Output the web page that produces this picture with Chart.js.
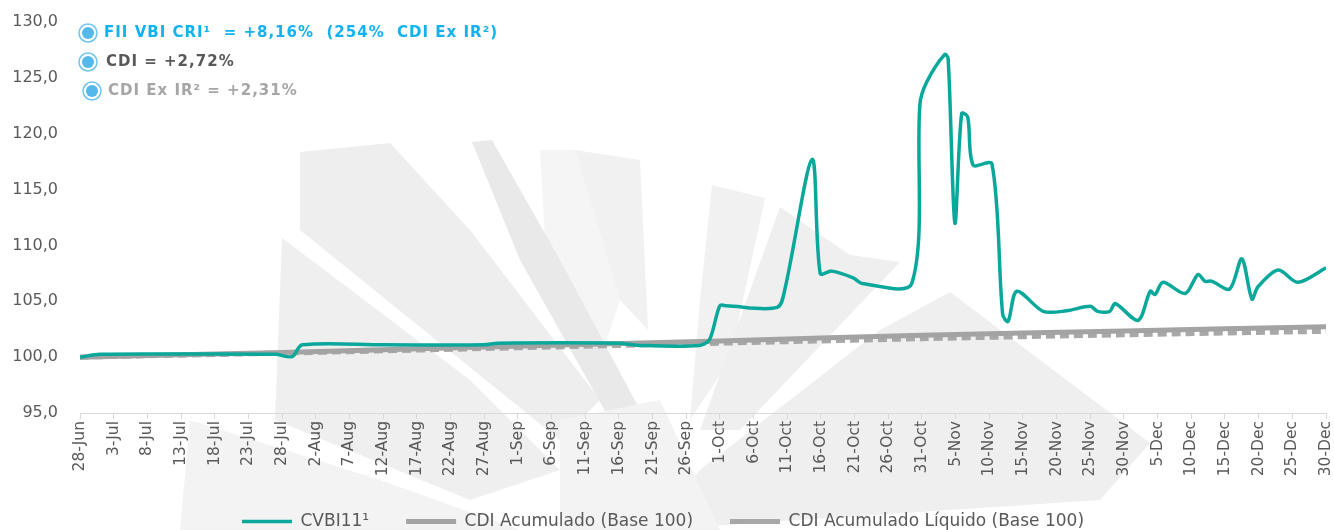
<!DOCTYPE html>
<html>
<head>
<meta charset="utf-8">
<script src="https://cdn.jsdelivr.net/npm/chart.js@4/dist/chart.umd.min.js"></script>
<style>
  html, body { margin: 0; padding: 0; background: #fff; }
  #wrap { width: 1334px; height: 530px; }
</style>
</head>
<body>
<div id="wrap"><canvas id="chart" width="1334" height="530"></canvas></div>
<script>
// x axis: days counted from 28-Jun, one tick label every 5 days
const tickLabels = ['28-Jun', '3-Jul', '8-Jul', '13-Jul', '18-Jul', '23-Jul', '28-Jul',
    '2-Aug', '7-Aug', '12-Aug', '17-Aug', '22-Aug', '27-Aug',
    '1-Sep', '6-Sep', '11-Sep', '16-Sep', '21-Sep', '26-Sep',
    '1-Oct', '6-Oct', '11-Oct', '16-Oct', '21-Oct', '26-Oct', '31-Oct',
    '5-Nov', '10-Nov', '15-Nov', '20-Nov', '25-Nov', '30-Nov',
    '5-Dec', '10-Dec', '15-Dec', '20-Dec', '25-Dec', '30-Dec'];

// CVBI11 (base 100)
const cvbiDays = [0, 3, 15, 29, 31.5, 33, 45, 60, 62, 80, 83, 92, 93.5, 95, 96, 103.5, 104.7, 108.7, 109.9,
    111.6, 114.8, 116.1, 123.5, 124.7, 125.7, 128.4, 128.9, 129.9, 130.9, 131.8, 132.6, 135.4, 137, 137.8,
    139.1, 143, 146.5, 150, 151.1, 152.9, 153.7, 157.1, 158.9, 159.6, 160.8, 164.1, 166, 167, 168, 170.7,
    172.5, 174, 174.9, 177.9, 180.8, 185];
const cvbiValues = [100.0, 100.25, 100.28, 100.25, 100.05, 101.1, 101.1, 101.1, 101.25, 101.25, 101.05, 101.05, 101.6, 104.6, 104.6, 104.45, 106.2, 117.7, 107.5,
    107.7, 107.1, 106.6, 106.6, 122.6, 124.6, 127.1, 126.7, 112.0, 121.8, 121.5, 117.2, 117.3, 103.8, 103.2,
    105.9, 104.1, 104.15, 104.55, 104.1, 104.1, 104.8, 103.3, 105.9, 105.6, 106.7, 105.7, 107.4, 106.8, 106.8, 106.1,
    108.8, 105.2, 106.3, 107.8, 106.7, 108.0];

// CDI accumulated, gross and net
const cdiDays = [0, 30, 60, 95, 125, 155, 185];
const cdiValues = [100.0, 100.42, 100.9, 101.45, 101.95, 102.35, 102.72];
const cdiLiqValues = [100.0, 100.36, 100.77, 101.25, 101.65, 102.0, 102.31];

const seriesNames = ['CVBI11¹', 'CDI Acumulado (Base 100)', 'CDI Acumulado Líquido (Base 100)'];

// text box in the top left corner
const notes = [
    { text: 'FII VBI CRI¹  = +8,16%  (254%  CDI Ex IR²)', color: '#12b2f0' },
    { text: 'CDI = +2,72%', color: '#595959' },
    { text: 'CDI Ex IR² = +2,31%', color: '#a6a6a6' },
];

const toPoints = (xs, ys) => xs.map((x, i) => ({ x: x, y: ys[i] }));

// faint logo behind the plot
const watermark = {
    id: 'watermark',
    beforeDraw(chart) {
        const ctx = chart.ctx;
        ctx.save();
        ctx.fillStyle = '#fff';
        ctx.fillRect(0, 0, chart.width, chart.height);
        const shapes = [
            ['#f3f3f3', [[190, 420], [380, 480], [520, 530], [180, 530]]],
            ['#eeeeef', [[300, 152], [390, 143], [470, 230], [600, 400], [560, 440], [300, 230]]],
            ['#efefef', [[282, 238], [470, 380], [560, 470], [470, 500], [275, 420]]],
            ['#f5f5f6', [[540, 150], [575, 150], [620, 300], [600, 360], [545, 240]]],
            ['#e9e9ea', [[472, 142], [492, 140], [560, 260], [640, 410], [610, 420], [520, 260]]],
            ['#f1f1f1', [[575, 150], [640, 160], [648, 330], [620, 300]]],
            ['#f1f1f1', [[712, 185], [765, 198], [730, 360], [690, 420], [700, 300]]],
            ['#efefef', [[780, 207], [850, 255], [900, 262], [740, 430], [700, 430]]],
            ['#efefef', [[950, 292], [1150, 443], [1100, 500], [650, 530], [700, 470], [880, 330]]],
            ['#f3f3f3', [[560, 420], [660, 400], [720, 530], [560, 530]]],
        ];
        shapes.forEach(([color, pts]) => {
            ctx.fillStyle = color;
            ctx.beginPath();
            pts.forEach((p, i) => i ? ctx.lineTo(p[0], p[1]) : ctx.moveTo(p[0], p[1]));
            ctx.closePath();
            ctx.fill();
        });
        ctx.restore();
    }
};

const notesBox = {
    id: 'notesBox',
    afterDraw(chart) {
        const ctx = chart.ctx;
        ctx.save();
        const rows = [[88, 33, 104], [88, 62, 106], [92, 91, 108]];
        notes.forEach((n, i) => {
            const [cx, cy, tx] = rows[i];
            ctx.beginPath();
            ctx.arc(cx, cy, 9, 0, Math.PI * 2);
            ctx.fillStyle = '#fff';
            ctx.fill();
            ctx.lineWidth = 1.5;
            ctx.strokeStyle = '#6cc4ef';
            ctx.stroke();
            ctx.beginPath();
            ctx.arc(cx, cy, 6, 0, Math.PI * 2);
            ctx.fillStyle = '#55b8ea';
            ctx.fill();
            ctx.font = 'bold 15px "DejaVu Sans"';
            ctx.letterSpacing = '1px';
            ctx.fillStyle = n.color;
            ctx.textBaseline = 'middle';
            ctx.fillText(n.text, tx, cy);
        });
        ctx.restore();
    }
};

new Chart(document.getElementById('chart'), {
    type: 'line',
    plugins: [watermark, notesBox],
    data: {
        datasets: [
            {
                label: seriesNames[0],
                data: toPoints(cvbiDays, cvbiValues),
                borderColor: '#0aa89b',
                backgroundColor: '#0aa89b',
                borderWidth: 3.5,
                tension: 0.3,
                pointRadius: 0,
                order: 0,
            },
            {
                label: seriesNames[1],
                data: toPoints(cdiDays, cdiValues),
                borderColor: '#a3a3a3',
                backgroundColor: '#a3a3a3',
                borderWidth: 5,
                tension: 0.3,
                pointRadius: 0,
                order: 1,
            },
            {
                label: seriesNames[2],
                data: toPoints(cdiDays, cdiLiqValues),
                borderColor: '#a8a8a8',
                backgroundColor: '#a8a8a8',
                borderWidth: 5,
                borderDash: [9, 5],
                tension: 0.3,
                pointRadius: 0,
                order: 2,
            },
        ],
    },
    options: {
        responsive: false,
        animation: false,
        layout: { padding: { top: 22, right: 8, left: 0, bottom: -10 } },
        plugins: {
            tooltip: { enabled: false },
            legend: {
                position: 'bottom',
                labels: {
                    usePointStyle: true,
                    pointStyle: 'line',
                    pointStyleWidth: 50,
                    boxWidth: 50,
                    boxHeight: 17,
                    padding: 10,
                    color: '#595959',
                    font: { family: '"DejaVu Sans"', size: 17 },
                    generateLabels: (chart) => {
                        const items = Chart.defaults.plugins.legend.labels.generateLabels(chart);
                        items.forEach((it, i) => {
                            if (i < items.length - 1) it.text += '     ';
                        });
                        return items;
                    },
                },
            },
        },
        scales: {
            x: {
                type: 'linear',
                min: 0,
                max: 185,
                grid: { drawOnChartArea: false, color: '#d9d9d9', tickLength: 6 },
                border: { color: '#d9d9d9' },
                ticks: {
                    stepSize: 5,
                    autoSkip: false,
                    minRotation: 90,
                    maxRotation: 90,
                    padding: 2,
                    color: '#595959',
                    font: { family: '"DejaVu Sans"', size: 15.5 },
                    callback: (v) => tickLabels[Math.round(v / 5)],
                },
                afterFit: (scale) => {
                    scale.height = 90;
                    scale.paddingLeft = 0;
                    scale.paddingRight = 0;
                },
            },
            y: {
                min: 95,
                max: 130,
                grid: { display: false, drawTicks: false },
                border: { display: false },
                ticks: {
                    stepSize: 5,
                    padding: 22,
                    color: '#595959',
                    font: { family: '"DejaVu Sans"', size: 16 },
                    callback: (v) => v.toFixed(1).replace('.', ','),
                },
                afterFit: (scale) => {
                    scale.width = 80;
                    scale.paddingTop = 0;
                    scale.paddingBottom = 0;
                },
            },
        },
    },
});
</script>
</body>
</html>
